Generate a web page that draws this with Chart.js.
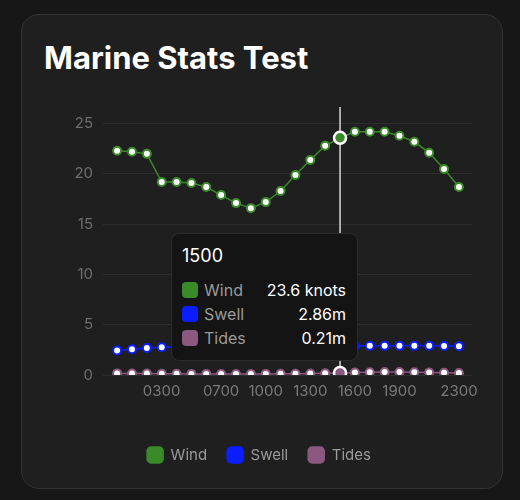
<!DOCTYPE html>
<html>
<head>
<meta charset="utf-8">
<script src="https://cdn.jsdelivr.net/npm/chart.js@4"></script>
<style>
  html, body { margin: 0; padding: 0; background: #171717; width: 520px; height: 500px; overflow: hidden; }
  body { font-family: Inter, "Noto Sans", sans-serif; position: relative; }
  .card {
    position: absolute; left: 21px; top: 14px; width: 482px; height: 475px;
    box-sizing: border-box; background: #1f1f1f; border: 1px solid #333; border-radius: 18px;
  }
  .card h1 {
    position: absolute; left: 22px; top: 24px; margin: 0;
    font-size: 31px; line-height: 38px; font-weight: 700; color: #fff; letter-spacing: 0;
  }
  .chart-wrap { position: absolute; left: 44px; top: 95px; width: 436px; height: 378px; }
  .tip {
    position: absolute; width: 187px; box-sizing: border-box; padding: 11px 11px 10px 10px;
    background: #141414; border: 1px solid #2c2c2c; border-radius: 8px; pointer-events: none;
    font-family: Inter, "Noto Sans", sans-serif;
  }
  .tip .t-title { color: #fff; font-size: 18px; line-height: 22px; margin-bottom: 11px; }
  .tip .t-row { display: flex; align-items: center; height: 24px; font-size: 16px; }
  .tip .t-box { width: 16px; height: 16px; border-radius: 4px; margin-right: 6px; }
  .tip .t-label { color: #9a9a9a; flex: 1; }
  .tip .t-value { color: #fff; }
</style>
</head>
<body>
<div class="card">
  <h1>Marine Stats Test</h1>
</div>
<div class="chart-wrap">
  <canvas id="marineChart"></canvas>
</div>

<script>
/* ======= DATA ======= */
const hours = ['0000','0100','0200','0300','0400','0500','0600','0700','0800','0900','1000','1100',
               '1200','1300','1400','1500','1600','1700','1800','1900','2000','2100','2200','2300'];
const shownTicks = ['0300','0700','1000','1300','1600','1900','2300'];
const yTicks = [0, 5, 10, 15, 20, 25];

const wind  = [22.3, 22.2, 22.0, 19.2, 19.2, 19.1, 18.7, 17.9, 17.1, 16.6, 17.2, 18.3,
               19.9, 21.4, 22.8, 23.6, 24.2, 24.2, 24.2, 23.8, 23.2, 22.1, 20.5, 18.7];
const swell = [2.43, 2.56, 2.68, 2.76, 2.80, 2.82, 2.84, 2.85, 2.85, 2.86, 2.86, 2.86,
               2.86, 2.86, 2.86, 2.86, 2.88, 2.90, 2.90, 2.90, 2.90, 2.90, 2.89, 2.87];
const tides = [0.16, 0.15, 0.14, 0.13, 0.12, 0.11, 0.11, 0.10, 0.10, 0.10, 0.11, 0.12,
               0.13, 0.15, 0.18, 0.21, 0.24, 0.27, 0.29, 0.29, 0.28, 0.26, 0.23, 0.20];

const seriesNames  = ['Wind', 'Swell', 'Tides'];
const seriesUnits  = [' knots', 'm', 'm'];
const seriesColors = ['#3a8a2a', '#0a1eff', '#8c5880'];

const HOVER_INDEX = 15; // 1500

/* ======= PLUGINS ======= */
// vertical line at the hovered hour
const crosshair = {
  id: 'crosshair',
  beforeDatasetsDraw(chart) {
    const active = chart.getActiveElements();
    if (!active.length) return;
    const x = active[0].element.x;
    const { top, bottom } = chart.chartArea;
    const ctx = chart.ctx;
    ctx.save();
    ctx.strokeStyle = '#d8d8d8';
    ctx.lineWidth = 1.5;
    ctx.beginPath();
    ctx.moveTo(x, top);
    ctx.lineTo(x, bottom);
    ctx.stroke();
    ctx.restore();
  }
};

function externalTooltip(context) {
  const { chart, tooltip } = context;
  const wrap = chart.canvas.parentNode;
  let el = wrap.querySelector('.tip');
  if (!el) {
    el = document.createElement('div');
    el.className = 'tip';
    wrap.appendChild(el);
  }
  if (tooltip.opacity === 0) { el.style.opacity = 0; return; }

  const idx = tooltip.dataPoints[0].dataIndex;
  let html = `<div class="t-title">${hours[idx]}</div>`;
  tooltip.dataPoints.forEach(dp => {
    const i = dp.datasetIndex;
    html += `<div class="t-row">
      <div class="t-box" style="background:${seriesColors[i]}"></div>
      <div class="t-label">${seriesNames[i]}</div>
      <div class="t-value">${dp.parsed.y}${seriesUnits[i]}</div>
    </div>`;
  });
  el.innerHTML = html;
  el.style.opacity = 1;
  el.style.left = (tooltip.caretX - 169) + 'px';
  el.style.top = (tooltip.caretY - 53) + 'px';
}

/* ======= CHART ======= */
function makeDataset(i, values) {
  return {
    label: seriesNames[i],
    data: values.map((y, x) => ({ x, y })),
    borderColor: seriesColors[i],
    backgroundColor: seriesColors[i],
    borderWidth: 1.5,
    pointRadius: 4,
    pointBorderWidth: 2,
    pointBackgroundColor: '#ffffff',
    pointBorderColor: seriesColors[i],
    pointHoverRadius: 6,
    pointHoverBorderWidth: 2.5,
    pointHoverBackgroundColor: seriesColors[i],
    pointHoverBorderColor: '#ffffff',
    tension: 0,
  };
}

const ctx = document.getElementById('marineChart').getContext('2d');
const chart = new Chart(ctx, {
  type: 'line',
  data: {
    datasets: [makeDataset(0, wind), makeDataset(1, swell), makeDataset(2, tides)]
  },
  options: {
    responsive: true,
    maintainAspectRatio: false,
    animation: false,
    layout: { padding: { top: 12, right: 6, left: 0, bottom: 0 } },
    interaction: { mode: 'index', intersect: false },
    plugins: {
      legend: {
        position: 'bottom',
        labels: {
          color: '#9a9a9a',
          font: { family: 'Inter', size: 15 },
          boxWidth: 16,
          boxHeight: 16,
          padding: 20,
          useBorderRadius: true,
          borderRadius: 4,
        }
      },
      tooltip: { enabled: false, external: externalTooltip }
    },
    scales: {
      x: {
        type: 'linear',
        min: -0.95,
        max: 23.88,
        grid: { display: false, drawTicks: false },
        border: { display: false },
        afterBuildTicks: axis => {
          axis.ticks = shownTicks.map(l => ({ value: hours.indexOf(l) }));
        },
        afterFit: s => {
          s.height = 52;
          s.paddingLeft = 0;
          s.paddingRight = 0;
        },
        ticks: {
          color: '#7a7a7a',
          font: { family: 'Inter', size: 15 },
          padding: 7,
          maxRotation: 0,
          autoSkip: false,
          callback: v => hours[v],
        }
      },
      y: {
        min: 0,
        max: 26.66,
        grid: { color: 'rgba(255,255,255,.07)', drawTicks: false },
        border: { display: false },
        afterBuildTicks: axis => {
          axis.ticks = yTicks.map(value => ({ value }));
        },
        afterFit: s => {
          s.width = 59;
          s.paddingTop = 0;
          s.paddingBottom = 0;
        },
        ticks: {
          color: '#6e6e6e',
          font: { family: 'Inter', size: 15 },
          padding: 10,
        }
      }
    }
  },
  plugins: [crosshair]
});

// show the 1500 reading like the reference
const activeEls = [0, 1, 2].map(d => ({ datasetIndex: d, index: HOVER_INDEX }));
chart.setActiveElements(activeEls);
chart.tooltip.setActiveElements(activeEls, { x: 0, y: 0 });
chart.update();
</script>
</body>
</html>
